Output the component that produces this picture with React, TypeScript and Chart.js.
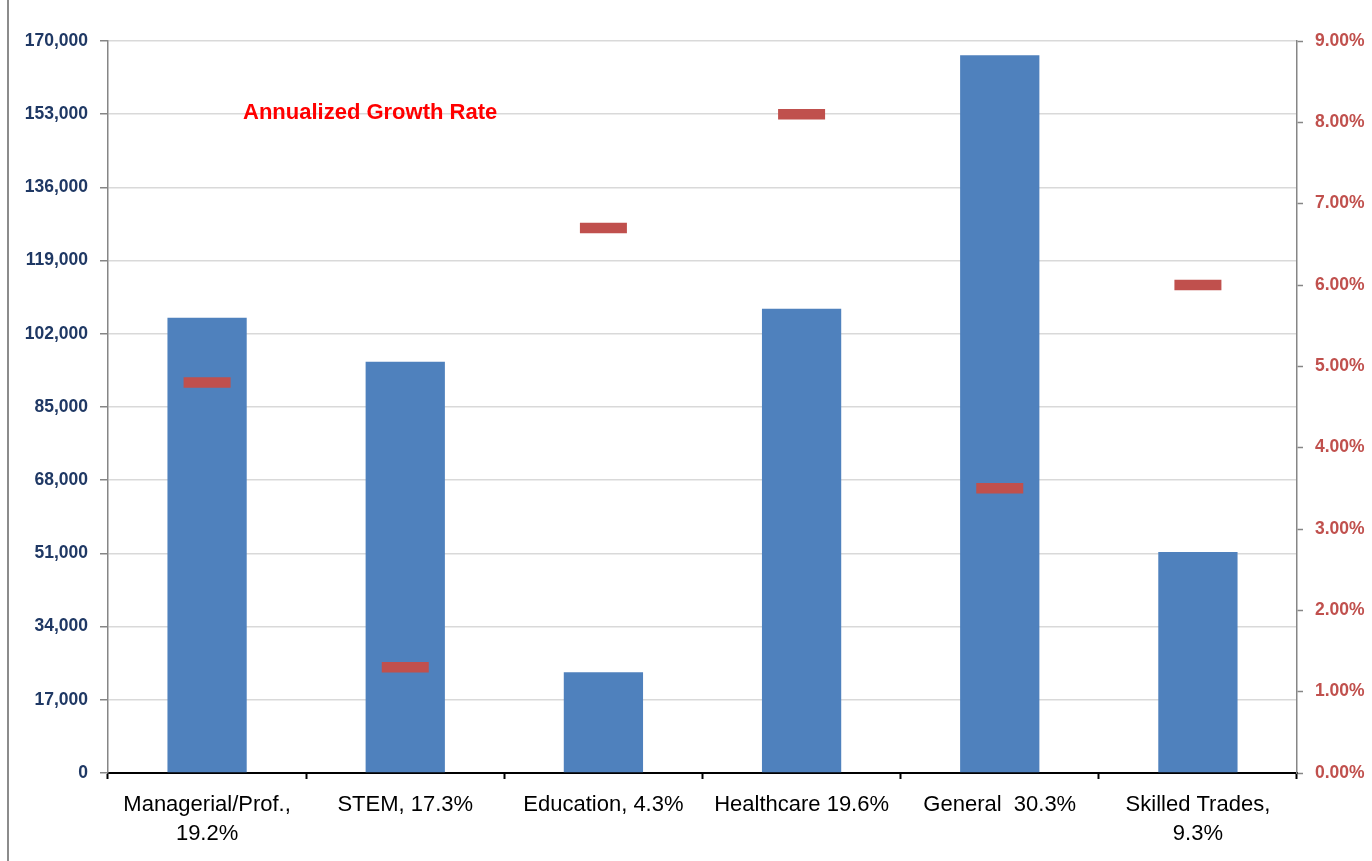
import React, { useEffect, useRef } from "react";
import { Chart, registerables } from "chart.js";

Chart.register(...registerables);

// ---- Data ----
const categories: string[][] = [
  ["Managerial/Prof.,", "19.2%"],
  ["STEM, 17.3%"],
  ["Education, 4.3%"],
  ["Healthcare 19.6%"],
  ["General  30.3%"],
  ["Skilled Trades,", "9.3%"],
];
const employmentValues: number[] = [105700, 95500, 23400, 107800, 166700, 51300];
const growthRates: number[] = [4.8, 1.3, 6.7, 8.1, 3.5, 6.0];

const leftAxisMin = 0;
const leftAxisMax = 170000;
const leftAxisStep = 17000;
const rightAxisMin = 0;
const rightAxisMax = 9;
const rightAxisStep = 1;

const titleText = "Annualized Growth Rate";

const FONT = "'Liberation Sans', Arial, Helvetica, sans-serif";

const overlayPlugin = {
  id: "overlayPlugin",
  afterDraw(chart: any) {
    const ctx = chart.ctx;
    ctx.save();
    // left frame line
    ctx.strokeStyle = "#8C8C8C";
    ctx.lineWidth = 2;
    ctx.beginPath();
    ctx.moveTo(8, 0);
    ctx.lineTo(8, chart.height);
    ctx.stroke();
    // title
    ctx.fillStyle = "#FF0000";
    ctx.font = `bold 22px ${FONT}`;
    ctx.textAlign = "left";
    ctx.textBaseline = "middle";
    ctx.fillText(titleText, 243, 113);
    ctx.restore();
  },
};

export default function App() {
  const canvasRef = useRef<HTMLCanvasElement | null>(null);

  useEffect(() => {
    if (!canvasRef.current) return;
    const chart = new Chart(canvasRef.current, {
      type: "bar",
      data: {
        labels: categories,
        datasets: [
          {
            type: "line",
            label: "Annualized Growth Rate",
            data: growthRates,
            yAxisID: "y1",
            showLine: false,
            pointStyle: "line",
            pointRadius: 23.5,
            pointHoverRadius: 23.5,
            pointBorderWidth: 10.5,
            pointBorderColor: "#C0504D",
            pointBackgroundColor: "#C0504D",
            borderColor: "#C0504D",
            backgroundColor: "#C0504D",
            order: 0,
          } as any,
          {
            type: "bar",
            label: "Employment",
            data: employmentValues,
            yAxisID: "y",
            backgroundColor: "#4F81BD",
            borderWidth: 0,
            barPercentage: 0.4,
            categoryPercentage: 1.0,
            order: 1,
          },
        ],
      },
      options: {
        responsive: false,
        animation: false,
        devicePixelRatio: 1,
        layout: { padding: { top: 41, left: 0, right: 0, bottom: 0 } },
        plugins: {
          legend: { display: false },
          tooltip: { enabled: false },
          title: { display: false },
        },
        scales: {
          x: {
            type: "category",
            position: "bottom",
            offset: true,
            grid: {
              offset: true,
              drawOnChartArea: false,
              drawTicks: true,
              tickLength: 6,
              tickColor: "#000000",
              tickWidth: 2,
            },
            border: { display: true, color: "#000000", width: 2 },
            ticks: {
              color: "#000000",
              font: { family: FONT, size: 22, lineHeight: 1.3 },
              padding: 12,
              maxRotation: 0,
              minRotation: 0,
              autoSkip: false,
            },
            afterFit(scale: any) {
              scale.height = 88;
            },
          },
          y: {
            type: "linear",
            position: "left",
            min: leftAxisMin,
            max: leftAxisMax,
            ticks: {
              stepSize: leftAxisStep,
              color: "#1F3864",
              font: { family: FONT, size: 17.5, weight: "bold" },
              padding: 12,
              callback: (v: any) => Number(v).toLocaleString("en-US"),
            },
            grid: {
              color: (c: any) => (c.tick && c.tick.value === 0 ? "rgba(0,0,0,0)" : "#D9D9D9"),
              lineWidth: 1.5,
              drawTicks: true,
              tickLength: 8,
              tickColor: "#868686",
              tickWidth: 1.5,
            },
            border: { display: true, color: "#868686", width: 1.5 },
            afterFit(scale: any) {
              scale.width = 108;
            },
          },
          y1: {
            type: "linear",
            position: "right",
            min: rightAxisMin,
            max: rightAxisMax,
            ticks: {
              stepSize: rightAxisStep,
              color: "#C0504D",
              font: { family: FONT, size: 17.5, weight: "bold" },
              padding: 12,
              callback: (v: any) => Number(v).toFixed(2) + "%",
            },
            grid: {
              drawOnChartArea: false,
              drawTicks: true,
              tickLength: 6,
              tickColor: "#868686",
              tickWidth: 1.5,
            },
            border: { display: true, color: "#868686", width: 1.5 },
            afterFit(scale: any) {
              scale.width = 75;
            },
          },
        },
      },
      plugins: [overlayPlugin],
    } as any);
    return () => chart.destroy();
  }, []);

  return (
    <div style={{ position: "fixed", left: 0, top: 0, width: 1372, height: 861, background: "#FFFFFF" }}>
      <canvas ref={canvasRef} width={1372} height={861} style={{ display: "block" }} />
    </div>
  );
}
